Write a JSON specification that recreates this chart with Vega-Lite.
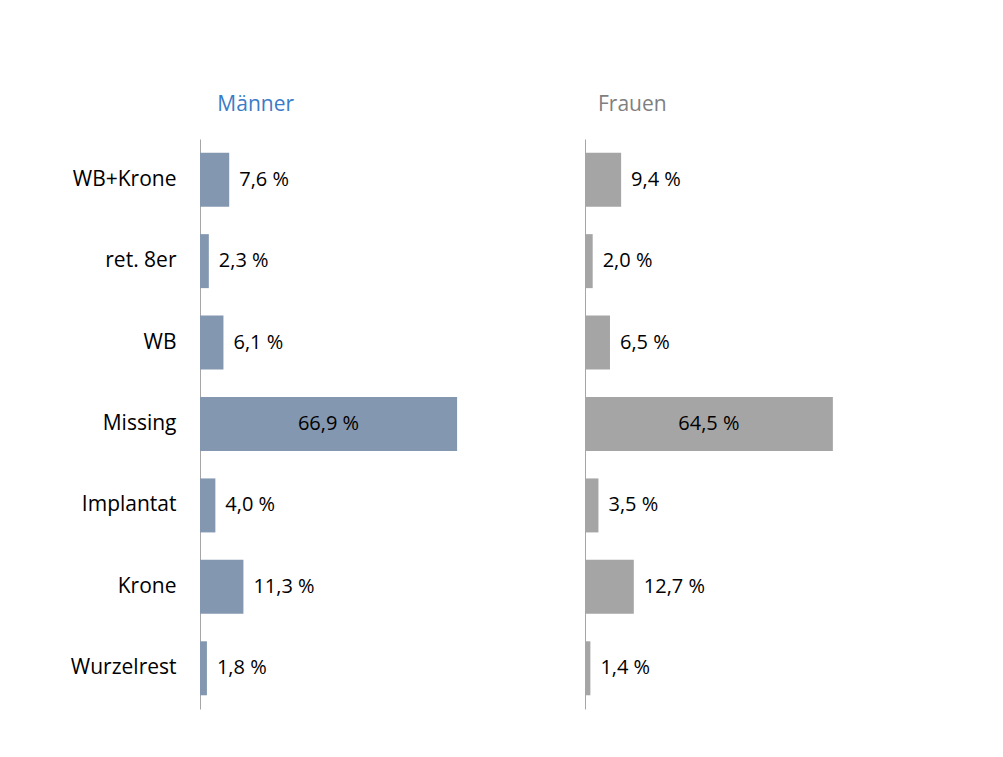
{
  "$schema": "https://vega.github.io/schema/vega-lite/v6.json",
  "padding": {"left": 70, "top": 94, "right": 5, "bottom": 5},
  "background": "white",
  "config": {"view": {"stroke": null}, "font": "Open Sans"},
  "data": {"values": [
    {"sex": "Männer", "cat": "WB+Krone", "value": 7.6},
    {"sex": "Männer", "cat": "ret. 8er", "value": 2.3},
    {"sex": "Männer", "cat": "WB", "value": 6.1},
    {"sex": "Männer", "cat": "Missing", "value": 66.9},
    {"sex": "Männer", "cat": "Implantat", "value": 4.0},
    {"sex": "Männer", "cat": "Krone", "value": 11.3},
    {"sex": "Männer", "cat": "Wurzelrest", "value": 1.8},
    {"sex": "Frauen", "cat": "WB+Krone", "value": 9.4},
    {"sex": "Frauen", "cat": "ret. 8er", "value": 2.0},
    {"sex": "Frauen", "cat": "WB", "value": 6.5},
    {"sex": "Frauen", "cat": "Missing", "value": 64.5},
    {"sex": "Frauen", "cat": "Implantat", "value": 3.5},
    {"sex": "Frauen", "cat": "Krone", "value": 12.7},
    {"sex": "Frauen", "cat": "Wurzelrest", "value": 1.4}
  ]},
  "transform": [
    {"calculate": "replace(format(datum.value, '.1f'), '.', ',') + ' %'", "as": "label"},
    {"calculate": "datum.value / 2", "as": "mid"}
  ],
  "spacing": 116,
  "hconcat": [
    {
      "title": {"text": "Männer", "anchor": "start", "color": "#3a7cc7", "fontSize": 21, "fontWeight": "normal", "dx": 147, "offset": 24, "font": "Open Sans"},
      "width": 269,
      "height": 570,
      "transform": [{"filter": "datum.sex == 'Männer'"}],
      "encoding": {
        "y": {"field": "cat", "type": "nominal", "sort": ["WB+Krone", "ret. 8er", "WB", "Missing", "Implantat", "Krone", "Wurzelrest"],
          "scale": {"paddingInner": 0.337},
          "axis": {"title": null, "ticks": false, "labelFontSize": 21, "labelColor": "#000000", "labelPadding": 24, "domainColor": "#a6a6a6", "domainWidth": 1, "labelFont": "Open Sans"}}
      },
      "layer": [
        {"mark": {"type": "bar", "color": "#8497b0"},
         "encoding": {"x": {"field": "value", "type": "quantitative", "scale": {"domain": [0, 70], "nice": false}, "axis": null}}},
        {"transform": [{"filter": "datum.value < 50"}],
         "mark": {"type": "text", "align": "left", "dx": 10, "fontSize": 20, "color": "#000000"},
         "encoding": {"x": {"field": "value", "type": "quantitative"}, "text": {"field": "label"}}},
        {"transform": [{"filter": "datum.value >= 50"}],
         "mark": {"type": "text", "align": "center", "fontSize": 20, "color": "#000000"},
         "encoding": {"x": {"field": "mid", "type": "quantitative"}, "text": {"field": "label"}}}
      ]
    },
    {
      "title": {"text": "Frauen", "anchor": "start", "color": "#7f7f7f", "fontSize": 21, "fontWeight": "normal", "dx": 13, "offset": 24, "font": "Open Sans"},
      "width": 269,
      "height": 570,
      "transform": [{"filter": "datum.sex == 'Frauen'"}],
      "encoding": {
        "y": {"field": "cat", "type": "nominal", "sort": ["WB+Krone", "ret. 8er", "WB", "Missing", "Implantat", "Krone", "Wurzelrest"],
          "scale": {"paddingInner": 0.337},
          "axis": {"title": null, "ticks": false, "labels": false, "domainColor": "#a6a6a6", "domainWidth": 1}}
      },
      "layer": [
        {"mark": {"type": "bar", "color": "#a5a5a5"},
         "encoding": {"x": {"field": "value", "type": "quantitative", "scale": {"domain": [0, 70], "nice": false}, "axis": null}}},
        {"transform": [{"filter": "datum.value < 50"}],
         "mark": {"type": "text", "align": "left", "dx": 10, "fontSize": 20, "color": "#000000"},
         "encoding": {"x": {"field": "value", "type": "quantitative"}, "text": {"field": "label"}}},
        {"transform": [{"filter": "datum.value >= 50"}],
         "mark": {"type": "text", "align": "center", "fontSize": 20, "color": "#000000"},
         "encoding": {"x": {"field": "mid", "type": "quantitative"}, "text": {"field": "label"}}}
      ]
    }
  ]
}
